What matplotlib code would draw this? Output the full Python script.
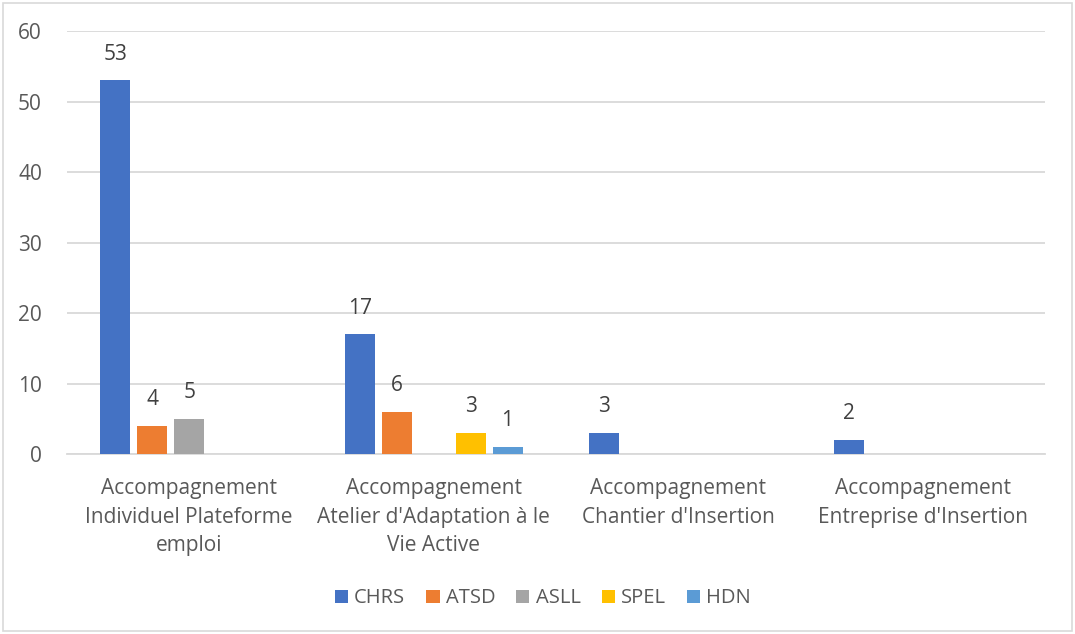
import numpy as np
import matplotlib
matplotlib.use("Agg")
import matplotlib.pyplot as plt
from matplotlib.patches import Rectangle

categories = [
    "Accompagnement\nIndividuel Plateforme\nemploi",
    "Accompagnement\nAtelier d'Adaptation à le\nVie Active",
    "Accompagnement\nChantier d'Insertion",
    "Accompagnement\nEntreprise d'Insertion",
]
series = ["CHRS", "ATSD", "ASLL", "SPEL", "HDN"]
colors = ["#4472C4", "#ED7D31", "#A5A5A5", "#FFC000", "#5B9BD5"]

chrs = [53, 17, 3, 2]
atsd = [4, 6, np.nan, np.nan]
asll = [5, np.nan, np.nan, np.nan]
spel = [np.nan, 3, np.nan, np.nan]
hdn = [np.nan, 1, np.nan, np.nan]
values = [chrs, atsd, asll, spel, hdn]

plt.rcParams["font.family"] = ["Open Sans", "DejaVu Sans"]
text_color = "#595959"

fig = plt.figure(figsize=(10.75, 6.34), dpi=100)
ax = fig.add_axes([0.0623, 0.2839, 0.9097, 0.6672])

x = np.arange(len(categories))
width = 0.1227
step = 0.151

for i, (name, vals) in enumerate(zip(series, values)):
    pos = x + (i - 2) * step
    ax.bar(pos, vals, width, color=colors[i], label=name, zorder=3)
    for p, v in zip(pos, vals):
        if not np.isnan(v):
            ax.text(p, v + 2.2, f"{v:g}", ha="center", va="bottom",
                    fontsize=15, color="#404040")

ax.set_xlim(-0.5, len(categories) - 0.5)
ax.set_ylim(0, 60)
ax.set_yticks(range(0, 61, 10))
ax.set_xticks(x)
ax.set_xticklabels(categories, fontsize=15, color=text_color, linespacing=1.45)
ax.tick_params(axis="y", labelsize=15, labelcolor=text_color, length=0, pad=18)
ax.tick_params(axis="x", length=0, pad=17.5)
ax.grid(axis="y", color="#D9D9D9", linewidth=1.3, zorder=0)
for s in ["top", "right", "left"]:
    ax.spines[s].set_visible(False)
ax.spines["bottom"].set_color("#D9D9D9")
ax.spines["bottom"].set_linewidth(1.3)

fig.legend(loc="center", bbox_to_anchor=(0.505, 0.056), ncol=5, frameon=False,
           fontsize=14.5, labelcolor=text_color, handlelength=0.65, handleheight=0.65,
           handletextpad=0.3, columnspacing=1.05)

fig.patches.append(Rectangle((0.003, 0.004), 0.994, 0.991, transform=fig.transFigure,
                             fill=False, edgecolor="#D9D9D9", linewidth=1.2))

fig.savefig("out.png", dpi=100)
